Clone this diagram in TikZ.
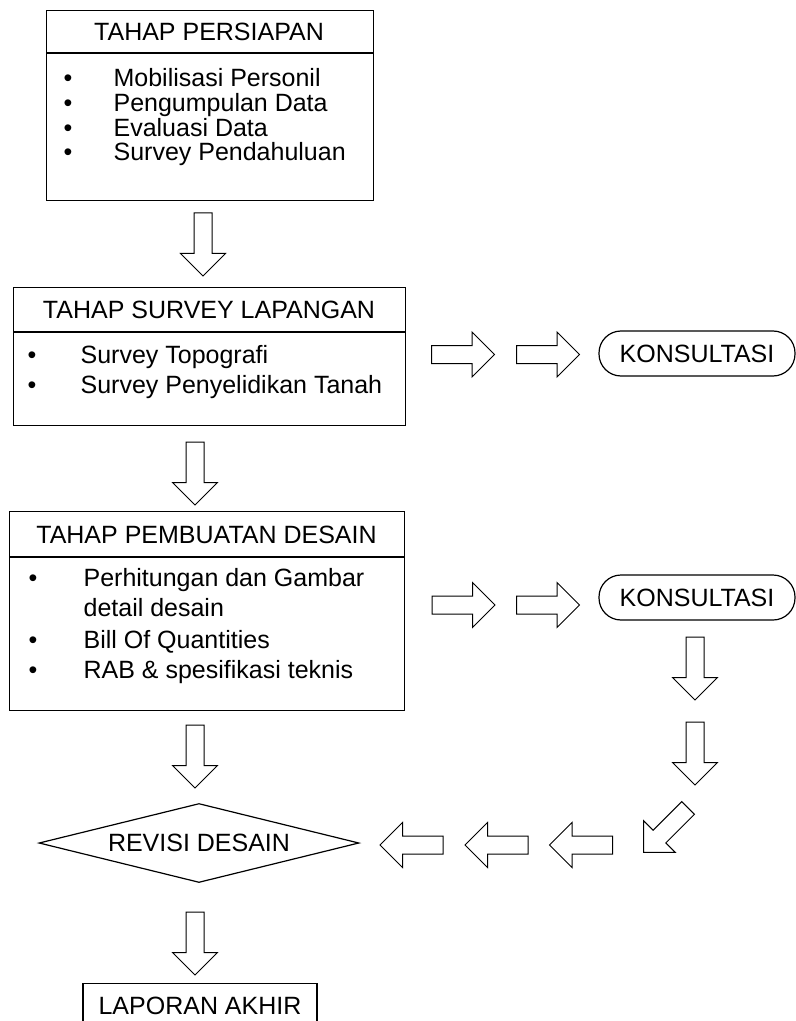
\documentclass[tikz,border=0pt]{standalone}
\usepackage{fontspec}
\setmainfont{Liberation Sans}
\usetikzlibrary{shapes.geometric, shapes.arrows, positioning}

\begin{document}
\begin{tikzpicture}[
        x=0.5pt, y=-0.5pt,
        font=\fontsize{12.5pt}{15pt}\selectfont,
        line width=0.6pt,
        tahap/.style={
            draw=black,
            anchor=north west,
            inner sep=0pt
        },
        judul/.style={
            anchor=base,
            inner sep=0pt
        },
        butir/.style={
            anchor=base west,
            inner sep=0pt
        },
        titik/.style={
            anchor=base,
            inner sep=0pt
        },
        konsul/.style={
            draw=black,
            rounded corners=11pt,
            minimum width=98pt,
            minimum height=22.5pt,
            inner sep=0pt
        },
        panah/.style={
            single arrow,
            draw=black,
            line width=0.5pt,
            minimum height=31.5pt,
            minimum width=22pt,
            single arrow head extend=6.75pt,
            single arrow tip angle=90,
            inner sep=4.25pt
        }
    ]

        \useasboundingbox (0,0) rectangle (796,1021);

        % tahap persiapan
        \node[tahap, minimum width=163.5pt, minimum height=95pt] (persiapan) at (46,10) {};
        \draw ([yshift=-21.5pt]persiapan.north west) -- ([yshift=-21.5pt]persiapan.north east);
        \node[judul] (judulA) at (209,40.5) {TAHAP PERSIAPAN};
        \node[titik] (a1t) at (68,87) {\textbullet};
        \node[butir] (a1) at (113,87) {Mobilisasi Personil};
        \node[titik] (a2t) at (68,111.7) {\textbullet};
        \node[butir] (a2) at (113,111.7) {Pengumpulan Data};
        \node[titik] (a3t) at (68,136.4) {\textbullet};
        \node[butir] (a3) at (113,136.4) {Evaluasi Data};
        \node[titik] (a4t) at (68,161) {\textbullet};
        \node[butir] (a4) at (113,161) {Survey Pendahuluan};

        \node[panah, rotate=-90] (panah1) at (203,240) {};

        % tahap survey lapangan
        \node[tahap, minimum width=196pt, minimum height=69pt] (survey) at (13,287) {};
        \draw ([yshift=-22.5pt]survey.north west) -- ([yshift=-22.5pt]survey.north east);
        \node[judul] (judulB) at (209,318.5) {TAHAP SURVEY LAPANGAN};
        \node[titik] (b1t) at (32,363.5) {\textbullet};
        \node[butir] (b1) at (80,363.5) {Survey Topografi};
        \node[titik] (b2t) at (32,393.5) {\textbullet};
        \node[butir] (b2) at (80,393.5) {Survey Penyelidikan Tanah};

        \node[panah] (kananA1) at (458.5,354.5) {};
        \node[panah] (kananA2) at (543.5,354.5) {};
        \node[konsul] (konsulA) at (697,353.5) {KONSULTASI};

        \node[panah, rotate=-90] (panah2) at (195,469) {};

        % tahap pembuatan desain
        \node[tahap, minimum width=197.5pt, minimum height=99.5pt] (desain) at (9,511) {};
        \draw ([yshift=-23pt]desain.north west) -- ([yshift=-23pt]desain.north east);
        \node[judul] (judulC) at (206.5,543) {TAHAP PEMBUATAN DESAIN};
        \node[titik] (c1t) at (33,586.5) {\textbullet};
        \node[butir] (c1) at (83,586.5) {Perhitungan dan Gambar};
        \node[butir] (c1b) at (83,616.5) {detail desain};
        \node[titik] (c2t) at (33,648) {\textbullet};
        \node[butir] (c2) at (83,648) {Bill Of Quantities};
        \node[titik] (c3t) at (33,678.5) {\textbullet};
        \node[butir] (c3) at (83,678.5) {RAB \& spesifikasi teknis};

        \node[panah] (kananB1) at (459,605) {};
        \node[panah] (kananB2) at (543.5,605) {};
        \node[konsul] (konsulB) at (697,597.5) {KONSULTASI};

        \node[panah, rotate=-90] (turun1) at (695,664) {};
        \node[panah, rotate=-90] (turun2) at (695,749) {};
        \node[panah, rotate=-135] (serong) at (669,827) {};
        \node[panah, rotate=180] (kiri1) at (585.5,845) {};
        \node[panah, rotate=180] (kiri2) at (501,845) {};
        \node[panah, rotate=180] (kiri3) at (416,845) {};

        \node[panah, rotate=-90] (panah3) at (195,752) {};

        % revisi dan laporan
        \node[diamond, draw=black, aspect=4.05, minimum width=160pt, minimum height=39.5pt, inner sep=0pt] (revisi) at (199,843) {REVISI DESAIN};

        \node[panah, rotate=-90] (panah4) at (195,939) {};

        \node[draw=black, anchor=north, minimum width=117pt, minimum height=22.5pt, inner sep=0pt] (laporan) at (200,983) {LAPORAN AKHIR};

    \end{tikzpicture}
\end{document}
